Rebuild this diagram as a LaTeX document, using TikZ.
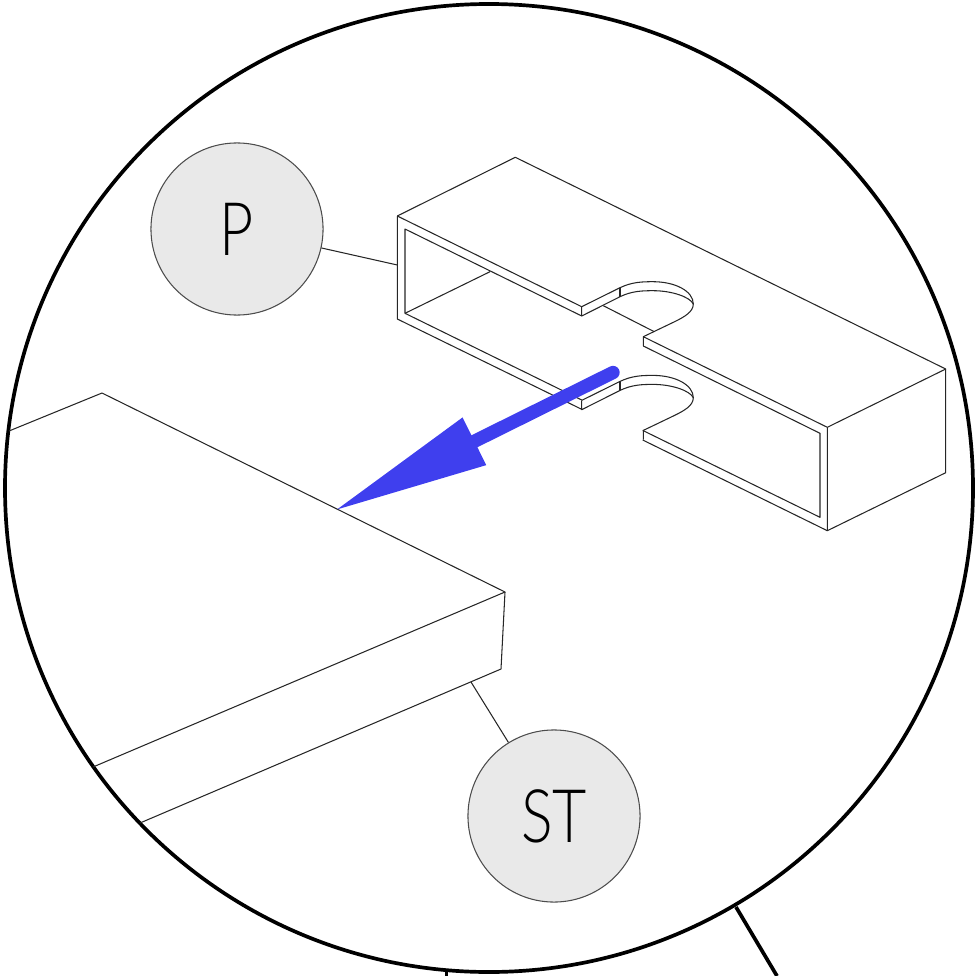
\documentclass[tikz,border=0pt]{standalone}
\usepackage{fontspec}
\setmainfont{Lato Light}[FakeStretch=0.8]
\usetikzlibrary{positioning, arrows.meta}
\definecolor{tagfill}{HTML}{E9E9E9}
\definecolor{arrowblue}{HTML}{3F3FEE}
\tikzset{
    thinline/.style={line width=0.3pt, line join=round, black!85},
    ringline/.style={line width=1.05pt},
    tagnode/.style={circle, draw=black!70, line width=0.3pt, fill=tagfill, minimum size=1.72cm, inner sep=0pt, font=\fontsize{21}{21}\selectfont},
}

\begin{document}
\begin{tikzpicture}[x=0.01cm, y=-0.01cm]
    \useasboundingbox (0,0) rectangle (976,976);
    % Magnifier ring and the two stubs below it
    \draw[ringline] (489,488) circle (484);
    \draw[ringline] (736,907) -- (777,976);
    \draw[ringline] (446.5,971) -- (446.5,976);

    % Slab
    \draw[thinline] (9,431) -- (102,393) -- (505,592) -- (93,767);
    \draw[thinline] (505,592) -- (501,669) -- (140,823);

    % Hollow profile, outer box
    \draw[thinline] (397.3,216) -- (515.3,157.3) -- (945.7,369) -- (827.3,427.3) -- (643.3,336.7);
    \draw[thinline] (945.7,369) -- (945.7,472.7) -- (827.3,530.7) -- (827.3,427.3);
    \draw[thinline] (397.3,216) -- (397.3,319) -- (581.7,409.3);
    \draw[thinline] (397.3,216) -- (581.7,306.7);

    % Inner faces
    \draw[thinline] (581.7,316) -- (405,229) -- (405,313.3) -- (581.7,400);
    \draw[thinline] (405,313.3) -- (490,271.7);
    \draw[thinline] (643.3,346) -- (820,433.3) -- (820,517.3) -- (642.7,430.4);
    \draw[thinline] (642.7,440) -- (827.3,530.7);
    \draw[thinline] (603.3,305.7) -- (654.3,331.7);

    % Two slots
    \foreach \dy in {0,93.7}{
        \draw[thinline] (581.7,306.7+\dy) -- (581.7,316+\dy) -- (620,296.7+\dy)
            .. controls (632,291+\dy) and (642,290.7+\dy) .. (653,290.7+\dy)
            .. controls (672,290.7+\dy) and (690,297+\dy) .. (693.3,304+\dy);
        \draw[thinline] (581.7,306.7+\dy) -- (620,287.7+\dy)
            .. controls (632,282+\dy) and (642,281.7+\dy) .. (653,281.7+\dy)
            .. controls (675,281.7+\dy) and (693.3,291+\dy) .. (693.3,304+\dy)
            .. controls (693.3,312+\dy) and (684,317+\dy) .. (675,321.5+\dy)
            -- (643.3,336.7+\dy) -- (643.3,346+\dy);
        \draw[thinline] (620,287.7+\dy) -- (620,296.7+\dy);
    }

    % Labels with leaders
    \coordinate (plateend) at (397.3,265);
    \coordinate (slabend) at (471,682);
    \node[tagnode] (plate) at (237,229) {P};
    \node[tagnode] (slab) at (554,816) {ST};
    \draw[thinline] (plate) -- (plateend);
    \draw[thinline] (slab) -- (slabend);

    % Insert direction
    \coordinate (arrowtail) at (613,372.5);
    \coordinate (arrowtip) at (333.3,511.3);
    \draw[arrowblue, line width=3.8pt, line cap=round, -{Triangle[length=44.8pt, width=14pt]}] (arrowtail) -- (arrowtip);
\end{tikzpicture}
\end{document}
